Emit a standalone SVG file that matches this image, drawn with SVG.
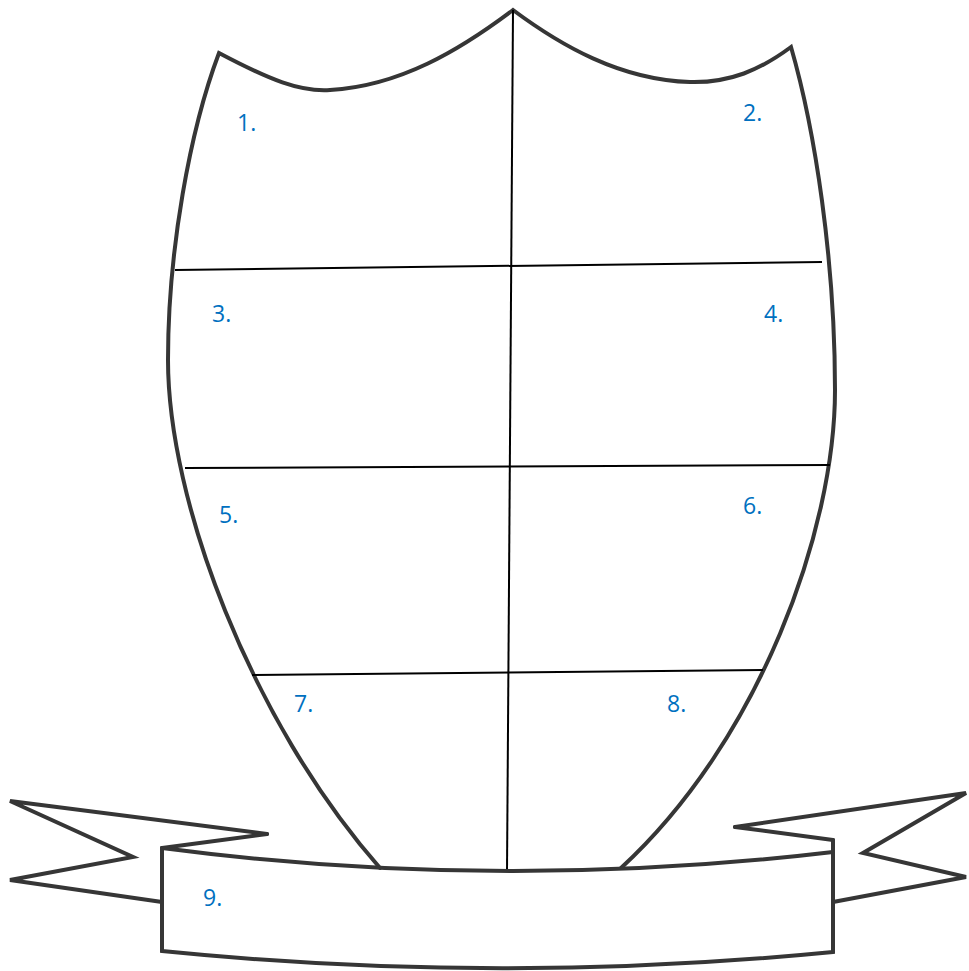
<svg xmlns="http://www.w3.org/2000/svg" width="969" height="971" viewBox="0 0 969 971">
<style>
.outline{fill:none;stroke:#363636;stroke-width:4;stroke-linejoin:miter;stroke-linecap:round}
.grid{fill:none;stroke:#000;stroke-width:2}
.lbl{font-family:"Open Sans","Liberation Sans",sans-serif;font-size:23px;fill:#0070C0}
</style>
<rect width="969" height="971" fill="#fff"/>
<g id="shield">
<path class="outline" d="M380,868 C250,720 168,500 168,360 C168,250 190,130 219,53 C270,80 300,92 330,90 C400,86 460,50 513,10 C560,45 620,80 690,82 C730,83 760,70 791,47 C815,130 835,260 835,390 C835,530 760,740 621,868"/>
</g>
<g id="connectors">
<line class="grid" x1="513" y1="10" x2="507" y2="872"/>
<line class="grid" x1="175" y1="270" x2="822" y2="262"/>
<line class="grid" x1="185" y1="468" x2="830" y2="465"/>
<line class="grid" x1="252" y1="675" x2="763" y2="670"/>
</g>
<g id="ribbon">
<path class="outline" d="M267,834 L10,801 L133,857 L10,880 L162,902"/>
<path class="outline" d="M267,834 L162,848"/>
<path class="outline" d="M735,827 L966,793 L863,853 L966,877 L833,902"/>
<path class="outline" d="M735,827 L833,840"/>
<path class="outline" d="M162,848 Q497,892 833,852"/>
<path class="outline" d="M833,840 L833,952 Q497,985 162,951 L162,848"/>
</g>
<g id="label-1"><text class="lbl" x="237" y="131">1.</text></g>
<g id="label-2"><text class="lbl" x="743" y="121">2.</text></g>
<g id="label-3"><text class="lbl" x="212" y="322">3.</text></g>
<g id="label-4"><text class="lbl" x="764" y="322">4.</text></g>
<g id="label-5"><text class="lbl" x="219" y="523">5.</text></g>
<g id="label-6"><text class="lbl" x="743" y="514">6.</text></g>
<g id="label-7"><text class="lbl" x="294" y="712">7.</text></g>
<g id="label-8"><text class="lbl" x="667" y="712">8.</text></g>
<g id="label-9"><text class="lbl" x="203" y="906">9.</text></g>
</svg>
